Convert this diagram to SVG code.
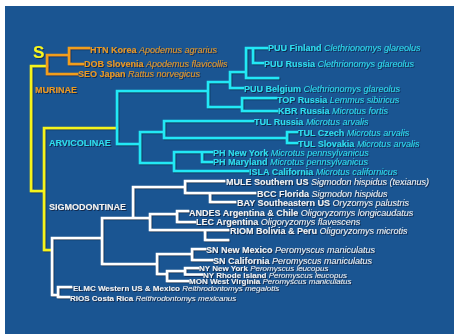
<svg xmlns="http://www.w3.org/2000/svg" width="454" height="334" viewBox="0 0 454 334">
<defs>
<filter id="sh" x="-5%" y="-20%" width="110%" height="140%">
<feDropShadow dx="1" dy="1" stdDeviation="0.4" flood-color="#08203c" flood-opacity="0.8"/>
</filter>
<style>
text{font-family:"Liberation Sans",Arial,Helvetica,sans-serif;font-size:9px;filter:url(#sh)}
.b{font-weight:bold}
.i{font-style:italic}
.s8{font-size:8px}
.o{fill:#EA9A20}
.c{fill:#2FDDEE}
.w{fill:#F2F2F2}
.y{fill:#F8F81C}
.ln{fill:none;stroke-width:2.6;stroke-linecap:square;stroke-linejoin:miter;filter:url(#sh)}
.ly{stroke:#F4F41A}
.lo{stroke:#F19E1A}
.lc{stroke:#22E8F6}
.lw{stroke:#FFFFFF}
</style>
</defs>
<rect x="0" y="0" width="454" height="334" fill="#FFFFFF"/>
<rect x="5" y="6" width="449" height="328" fill="#1A5592"/>

<g id="connectors">
<path class="ln ly" d="M31,66 H47 M31,66 V191 H44 M44,128 H117 M44,128 V250 H51"/>
<path class="ln lo" d="M47,55 V74 M47,55 H69 M69,48 V64 M69,48 H89 M69,64 H83 M47,74 H77"/>
<path class="ln lc" d="M117,91 V144 M117,91 H208 M208,82 V107 M208,82 H230 M230,72 V88 M230,72 H246 M246,48 V78 M246,48 H267 M253,48 V63 H263 M246,78 H278 M230,88 H243 M208,107 H242 M242,98 V111 M242,98 H276 M242,111 H277 M117,144 H140 M140,132 V163 M140,132 H164 M164,121 V138 M164,121 H253 M164,138 H287 M287,132 V143 M287,132 H297 M287,143 H297 M140,163 H174 M174,152 V171 M174,152 H212 M202,152 V162 H212 M174,171 H248"/>
<path class="ln lw" d="M52,238 V295 H58 M52,238 H102 M102,218 V264 M102,218 H150 M133,187 V218 M133,187 H185 M185,181 V193 M185,181 H224 M185,193 H255 M210,193 V202 H235 M150,214 V230 M150,214 H177 M177,211 V222 M177,211 H188 M177,222 H195 M150,230 H228 M205,230 V240 H228 M102,264 H157 M157,254 V274 M157,254 H192 M192,249 V260 M192,249 H205 M192,260 H212 M157,274 H167 M167,271 V281 M167,271 H185 M185,268 V274.5 M185,268 H198 M185,274.5 H202 M167,281 H188 M58,287 V297 M58,287 H71 M58,297 H69"/>
</g>

<g id="root-s"><text class="y b" x="33" y="58" style="font-size:17px">S</text></g>

<g id="murinae"><text class="o b" x="35" y="92.5">MURINAE</text></g>
<g id="htn-korea"><text class="o" x="90" y="52.5"><tspan class="b">HTN Korea</tspan> <tspan class="i">Apodemus agrarius</tspan></text></g>
<g id="dob-slovenia"><text class="o" x="84" y="66.5"><tspan class="b">DOB Slovenia</tspan> <tspan class="i">Apodemus flavicollis</tspan></text></g>
<g id="seo-japan"><text class="o" x="78" y="77"><tspan class="b">SEO Japan</tspan> <tspan class="i">Rattus norvegicus</tspan></text></g>

<g id="arvicolinae"><text class="c b" x="49" y="146">ARVICOLINAE</text></g>
<g id="puu-finland"><text class="c" x="268" y="51"><tspan class="b">PUU Finland</tspan> <tspan class="i">Clethrionomys glareolus</tspan></text></g>
<g id="puu-russia"><text class="c" x="264" y="66.5"><tspan class="b">PUU Russia</tspan> <tspan class="i">Clethrionomys glareolus</tspan></text></g>
<g id="puu-belgium"><text class="c" x="244" y="91.5"><tspan class="b">PUU Belgium</tspan> <tspan class="i">Clethrionomys glareolus</tspan></text></g>
<g id="top-russia"><text class="c" x="277" y="102.5"><tspan class="b">TOP Russia</tspan> <tspan class="i">Lemmus sibiricus</tspan></text></g>
<g id="kbr-russia"><text class="c" x="278" y="114"><tspan class="b">KBR Russia</tspan> <tspan class="i">Microtus fortis</tspan></text></g>
<g id="tul-russia"><text class="c" x="254" y="124.5"><tspan class="b">TUL Russia</tspan> <tspan class="i">Microtus arvalis</tspan></text></g>
<g id="tul-czech"><text class="c" x="298" y="136"><tspan class="b">TUL Czech</tspan> <tspan class="i">Microtus arvalis</tspan></text></g>
<g id="tul-slovakia"><text class="c" x="298" y="146.5"><tspan class="b">TUL Slovakia</tspan> <tspan class="i">Microtus arvalis</tspan></text></g>
<g id="ph-new-york"><text class="c" x="213" y="155.5"><tspan class="b">PH New York</tspan> <tspan class="i">Microtus pennsylvanicus</tspan></text></g>
<g id="ph-maryland"><text class="c" x="213" y="165"><tspan class="b">PH Maryland</tspan> <tspan class="i">Microtus pennsylvanicus</tspan></text></g>
<g id="isla-california"><text class="c" x="249" y="174.5"><tspan class="b">ISLA California</tspan> <tspan class="i">Microtus californicus</tspan></text></g>

<g id="sigmodontinae"><text class="w b" x="49" y="209.5">SIGMODONTINAE</text></g>
<g id="mule-southern-us"><text class="w" x="226" y="185"><tspan class="b">MULE Southern US</tspan> <tspan class="i">Sigmodon hispidus (texianus)</tspan></text></g>
<g id="bcc-florida"><text class="w" x="257" y="196.5"><tspan class="b">BCC Florida</tspan> <tspan class="i">Sigmodon hispidus</tspan></text></g>
<g id="bay-southeastern-us"><text class="w" x="237" y="205.5"><tspan class="b">BAY Southeastern US</tspan> <tspan class="i">Oryzomys palustris</tspan></text></g>
<g id="andes"><text class="w" x="189" y="215.5"><tspan class="b">ANDES Argentina &amp; Chile</tspan> <tspan class="i">Oligoryzomys longicaudatus</tspan></text></g>
<g id="lec-argentina"><text class="w" x="196" y="225"><tspan class="b">LEC Argentina</tspan> <tspan class="i">Oligoryzomys flavescens</tspan></text></g>
<g id="riom"><text class="w" x="230" y="234"><tspan class="b">RIOM Bolivia &amp; Peru</tspan> <tspan class="i">Oligoryzomys microtis</tspan></text></g>
<g id="sn-new-mexico"><text class="w" x="206" y="252.5"><tspan class="b">SN New Mexico</tspan> <tspan class="i">Peromyscus maniculatus</tspan></text></g>
<g id="sn-california"><text class="w" x="213" y="263.5"><tspan class="b">SN California</tspan> <tspan class="i">Peromyscus maniculatus</tspan></text></g>
<g id="ny-new-york"><text class="w s8" x="199" y="271"><tspan class="b">NY New York</tspan> <tspan class="i">Peromyscus leucopus</tspan></text></g>
<g id="ny-rhode-island"><text class="w s8" x="203" y="277.5"><tspan class="b">NY Rhode Island</tspan> <tspan class="i">Peromyscus leucopus</tspan></text></g>
<g id="mon-west-virginia"><text class="w s8" x="189" y="284"><tspan class="b">MON West Virginia</tspan> <tspan class="i">Peromyscus maniculatus</tspan></text></g>
<g id="elmc"><text class="w s8" x="73" y="291.3"><tspan class="b">ELMC Western US &amp; Mexico</tspan> <tspan class="i">Reithrodontomys megalotis</tspan></text></g>
<g id="rios-costa-rica"><text class="w s8" x="70" y="301"><tspan class="b">RIOS Costa Rica</tspan> <tspan class="i">Reithrodontomys mexicanus</tspan></text></g>
</svg>
